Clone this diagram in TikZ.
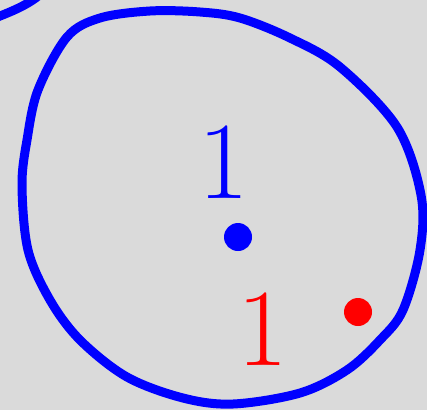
\documentclass[tikz,border=0pt]{standalone}
\definecolor{bg}{RGB}{218,218,218}
\begin{document}
\begin{tikzpicture}[x=1pt,y=-1pt,
  curve/.style={draw=blue,line width=9pt},
  lbl/.style={font=\fontsize{110}{110}\selectfont,inner sep=0pt}]
\useasboundingbox (0,0) rectangle (427,410);
\fill[bg] (0,0) rectangle (427,410);
\begin{scope}
\clip (0,0) rectangle (427,410);
\draw[curve] plot[smooth cycle,tension=0.55] coordinates {(22,185) (27,140) (38,90) (67,37) (100,18) (150,11) (200,12) (240,18) (290,38) (340,67) (397,127) (421,195) (420,250) (403,310) (380,340) (347,370) (300,393) (233,404) (183,398) (127,377) (80,340) (50,300) (28,250)};
\draw[curve] (-10,20) .. controls (10,12) and (30,5) .. (45,-10);
\end{scope}
\node[lbl,text=blue] (b1) at (224,162) {1};
\fill[blue] (238,237) circle (14) coordinate (bd);
\node[lbl,text=red] (r1) at (263,329) {1};
\fill[red] (358,312) circle (14) coordinate (rd);
\end{tikzpicture}
\end{document}
